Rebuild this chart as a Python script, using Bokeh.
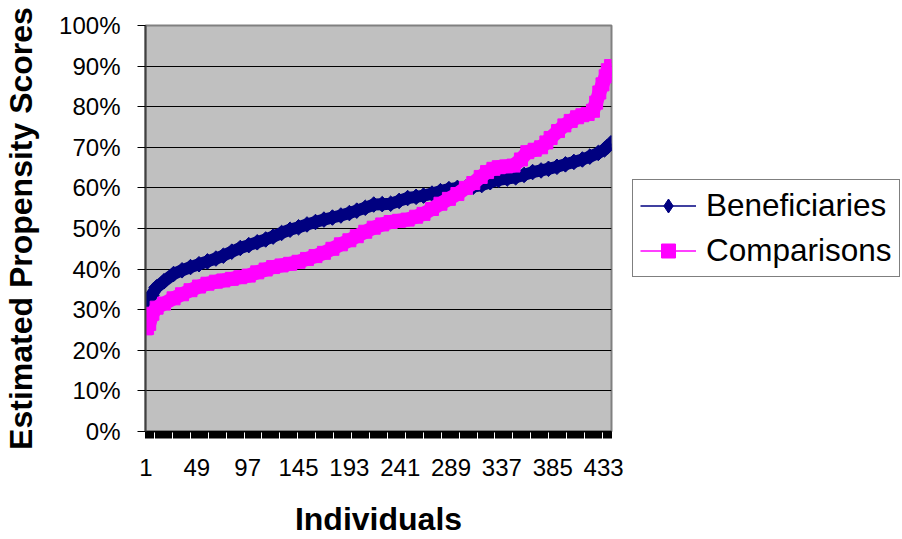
import numpy as np
from bokeh.plotting import figure
from bokeh.layouts import row
from bokeh.models import Range1d, FixedTicker, NumeralTickFormatter, Legend, LegendItem
from bokeh.embed import file_html
from bokeh.resources import INLINE

# Sorted estimated propensity scores, read at sampled individuals
ben_individual = [1, 3, 6, 11, 18, 27, 35, 43, 51, 59, 67, 74, 82, 90, 98, 106, 114, 121,
                  129, 137, 145, 153, 161, 169, 177, 185, 193, 200, 208, 216, 224, 232,
                  240, 248, 256, 263, 271, 279, 287, 295, 303, 310, 318, 326, 334, 342,
                  350, 358, 366, 374, 381, 389, 397, 405, 413, 420, 428, 434, 440]
ben_score = [0.31, 0.325, 0.335, 0.355, 0.37, 0.388, 0.397, 0.405, 0.412, 0.419, 0.426,
             0.433, 0.443, 0.452, 0.459, 0.466, 0.473, 0.480, 0.489, 0.497, 0.503, 0.510,
             0.516, 0.522, 0.527, 0.532, 0.538, 0.544, 0.551, 0.559, 0.560, 0.561, 0.568,
             0.575, 0.578, 0.581, 0.586, 0.592, 0.597, 0.600, 0.601, 0.603, 0.607, 0.614,
             0.620, 0.623, 0.626, 0.632, 0.639, 0.643, 0.647, 0.652, 0.658, 0.664, 0.670,
             0.677, 0.686, 0.695, 0.710]

cmp_individual = [1, 2, 4, 7, 11, 18, 27, 35, 43, 51, 59, 67, 74, 82, 90, 98, 106, 114,
                  121, 129, 137, 145, 153, 161, 169, 177, 185, 193, 200, 208, 216, 224,
                  232, 240, 248, 256, 263, 271, 279, 287, 295, 303, 310, 317, 323, 329,
                  334, 341, 348, 355, 361, 368, 374, 379, 383, 390, 396, 402, 408, 413,
                  418, 423, 426, 429, 432, 435, 437, 440]
cmp_score = [0.254, 0.255, 0.265, 0.29, 0.305, 0.315, 0.328, 0.338, 0.348, 0.357, 0.364,
             0.369, 0.372, 0.376, 0.380, 0.384, 0.392, 0.399, 0.405, 0.409, 0.413, 0.418,
             0.425, 0.432, 0.440, 0.450, 0.461, 0.471, 0.481, 0.492, 0.502, 0.510, 0.516,
             0.519, 0.522, 0.529, 0.536, 0.548, 0.561, 0.573, 0.585, 0.600, 0.612, 0.627,
             0.639, 0.647, 0.651, 0.653, 0.655, 0.670, 0.688, 0.694, 0.700, 0.712, 0.723,
             0.740, 0.754, 0.765, 0.774, 0.779, 0.782, 0.790, 0.81, 0.835, 0.855, 0.875,
             0.89, 0.90]

n_individuals = 440
x_tick_labels = [1, 49, 97, 145, 193, 241, 289, 337, 385, 433]
y_ticks = [0.0, 0.1, 0.2, 0.3, 0.4, 0.5, 0.6, 0.7, 0.8, 0.9, 1.0]
series_names = ["Beneficiaries", "Comparisons"]

FONT = "Liberation Sans"
NAVY = "#000080"
MAGENTA = "#FF00FF"

p = figure(width=630, height=539, output_backend="svg", toolbar_location=None,
           x_range=Range1d(0.5, n_individuals + 0.5), y_range=Range1d(0, 1),
           min_border_left=145, min_border_right=19, min_border_top=25,
           min_border_bottom=108, background_fill_color="#C0C0C0",
           border_fill_color="white")
p.outline_line_color = "#808080"
p.outline_line_width = 2

# Category axis: a tick at every category boundary, labels every 48th individual
xa = p.xaxis[0]
xa.ticker = FixedTicker(ticks=x_tick_labels,
                        minor_ticks=[k + 0.5 for k in range(n_individuals + 1)])
xa.major_tick_line_color = None
xa.minor_tick_line_color = "black"
xa.minor_tick_in = 0
xa.minor_tick_out = 7
xa.axis_line_color = "black"
xa.axis_line_width = 1.5
xa.major_label_text_font = FONT
xa.major_label_text_font_size = "24px"
xa.major_label_text_color = "black"
xa.major_label_standoff = 20
xa.axis_label = "Individuals"
xa.axis_label_text_font = FONT
xa.axis_label_text_font_size = "32px"
xa.axis_label_text_font_style = "bold"
xa.axis_label_text_color = "black"
xa.axis_label_standoff = 22

ya = p.yaxis[0]
ya.ticker = FixedTicker(ticks=y_ticks, minor_ticks=[])
ya.formatter = NumeralTickFormatter(format="0%")
ya.major_tick_in = 0
ya.major_tick_out = 8
ya.major_tick_line_color = "black"
ya.axis_line_color = "#404040"
ya.axis_line_width = 2
ya.major_label_text_font = FONT
ya.major_label_text_font_size = "24px"
ya.major_label_text_color = "black"
ya.major_label_standoff = 17
ya.axis_label = "Estimated Propensity Scores"
ya.axis_label_text_font = FONT
ya.axis_label_text_font_size = "32px"
ya.axis_label_text_font_style = "bold"
ya.axis_label_text_color = "black"
ya.axis_label_standoff = 17

p.xgrid.visible = False
p.ygrid.ticker = FixedTicker(ticks=y_ticks[1:-1])
p.ygrid.grid_line_color = "black"
p.ygrid.grid_line_width = 1

# Beneficiaries: dense diamond markers form a thick navy band
p.line(ben_individual, ben_score, line_color=NAVY, line_width=12, line_join="round")
p.line(ben_individual, ben_score, line_color=NAVY, line_width=1.5)
p.scatter(ben_individual, ben_score, marker="square", angle=np.pi / 4, size=11,
          fill_color=NAVY, line_color=NAVY)

# Comparisons: square markers in magenta
p.line(cmp_individual, cmp_score, line_color=MAGENTA, line_width=14, line_join="round")
p.line(cmp_individual, cmp_score, line_color=MAGENTA, line_width=1.5)
p.scatter(cmp_individual, cmp_score, marker="square", size=13,
          fill_color=MAGENTA, line_color=MAGENTA)

# Legend panel to the right of the chart; its series renderers stay hidden
q = figure(width=272, height=539, output_backend="svg", toolbar_location=None,
           x_axis_type=None, y_axis_type=None, x_range=Range1d(0, 1),
           y_range=Range1d(0, 1), min_border=0, outline_line_color=None,
           background_fill_color="white", border_fill_color="white")
q.grid.visible = False
key_ben = [q.line(ben_individual, ben_score, line_color=NAVY, line_width=1.5,
                  visible=False),
           q.scatter(ben_individual, ben_score, marker="diamond", size=14,
                     fill_color=NAVY, line_color=NAVY, visible=False)]
key_cmp = [q.line(cmp_individual, cmp_score, line_color=MAGENTA, line_width=1.5,
                  visible=False),
           q.scatter(cmp_individual, cmp_score, marker="square", size=13,
                     fill_color=MAGENTA, line_color=MAGENTA, visible=False)]

legend = Legend(items=[LegendItem(label=series_names[0], renderers=key_ben),
                       LegendItem(label=series_names[1], renderers=key_cmp)],
                location=(2, 154), orientation="vertical", click_policy="none")
legend.label_text_font = FONT
legend.label_text_font_size = "31.5px"
legend.label_text_color = "black"
legend.label_height = 35
legend.glyph_height = 35
legend.glyph_width = 56
legend.label_standoff = 10
legend.spacing = 8
legend.padding = 7
legend.margin = 0
legend.border_line_color = "black"
legend.border_line_width = 1
legend.background_fill_color = "white"
legend.background_fill_alpha = 1
legend.inactive_fill_alpha = 0
q.add_layout(legend, "center")

layout = row(p, q, spacing=0)
open("out.html", "w").write(file_html(layout, INLINE))
